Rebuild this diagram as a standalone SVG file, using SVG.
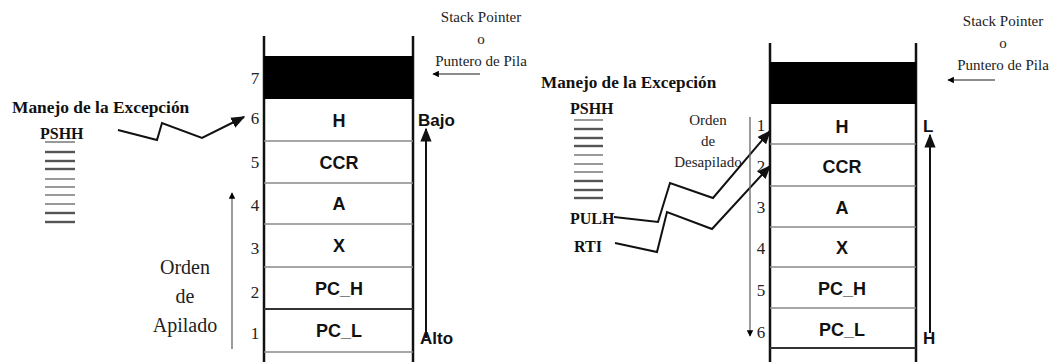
<svg xmlns="http://www.w3.org/2000/svg" width="1053" height="362" viewBox="0 0 1053 362">
<defs>
<marker id="ah" viewBox="0 0 10 10" refX="9" refY="5" markerWidth="5" markerHeight="5" orient="auto" markerUnits="strokeWidth"><path d="M0,0 L10,5 L0,10 z" fill="#000"/></marker>
<marker id="ahs" viewBox="0 0 10 10" refX="9" refY="5" markerWidth="7" markerHeight="7" orient="auto" markerUnits="strokeWidth"><path d="M0,1 L10,5 L0,9 z" fill="#111"/></marker>
<style>
.bd{stroke:#111;stroke-width:2.5;fill:none}
.cl{stroke:#888;stroke-width:1.5}
.cls{stroke:#333;stroke-width:2}
.lbl{font-family:"Liberation Sans",Arial,sans-serif;font-weight:bold;font-size:18px;text-anchor:middle;fill:#111}
.lbls{font-family:"Liberation Sans",Arial,sans-serif;font-weight:bold;font-size:17px;fill:#111}
.num{font-family:"Liberation Serif","Times New Roman",serif;font-size:17px;fill:#222;text-anchor:middle}
.ser{font-family:"Liberation Serif","Times New Roman",serif;fill:#222}
.sp{font-family:"Liberation Serif","Times New Roman",serif;fill:#222;font-size:15px;text-anchor:middle}
.tb{font-family:"Liberation Serif","Times New Roman",serif;font-weight:bold;fill:#111}
.pl{stroke:#555;stroke-width:2.4}
.pl2{stroke:#999;stroke-width:2}
.zz{stroke:#111;stroke-width:2;fill:none}
.ga{stroke:#666;stroke-width:1.3;fill:none}
</style>
</defs>

<g id="left-stack">
<line class="bd" x1="264" y1="36" x2="264" y2="362"/>
<line class="bd" x1="413" y1="36" x2="413" y2="362"/>
<rect x="264" y="56" width="149" height="43" fill="#000"/>
<line class="cl" x1="264" y1="141" x2="413" y2="141"/>
<line class="cl" x1="264" y1="183" x2="413" y2="183"/>
<line class="cl" x1="264" y1="224" x2="413" y2="224"/>
<line class="cl" x1="264" y1="267" x2="413" y2="267"/>
<line class="cls" x1="264" y1="309" x2="413" y2="309"/>
<line class="cl" x1="264" y1="352" x2="413" y2="352"/>
<text class="lbl" x="339" y="127">H</text>
<text class="lbl" x="339" y="169">CCR</text>
<text class="lbl" x="339" y="210">A</text>
<text class="lbl" x="339" y="252">X</text>
<text class="lbl" x="339" y="295">PC_H</text>
<text class="lbl" x="339" y="337">PC_L</text>
<text class="num" x="255" y="84">7</text>
<text class="num" x="255" y="124">6</text>
<text class="num" x="255" y="168">5</text>
<text class="num" x="255" y="211">4</text>
<text class="num" x="255" y="254">3</text>
<text class="num" x="255" y="298">2</text>
<text class="num" x="255" y="339">1</text>
</g>

<g id="left-sp">
<text class="sp" x="481" y="22">Stack Pointer</text>
<text class="sp" x="481" y="44">o</text>
<text class="sp" x="481" y="66">Puntero de Pila</text>
</g>

<g id="left-bajo-alto">
<text class="lbls" x="418" y="126">Bajo</text>
<text class="lbls" x="420" y="344">Alto</text>
</g>

<g id="left-manejo">
<text class="tb" font-size="17.4" x="12" y="113">Manejo de la Excepción</text>
<text class="tb" font-size="16" x="40" y="139">PSHH</text>
<line class="pl2" x1="45" y1="142" x2="75" y2="142"/>
<line class="pl" x1="45" y1="152" x2="75" y2="152"/>
<line class="pl" x1="45" y1="161" x2="75" y2="161"/>
<line class="pl" x1="45" y1="169" x2="75" y2="169"/>
<line class="pl2" x1="45" y1="179" x2="75" y2="179"/>
<line class="pl2" x1="45" y1="187" x2="75" y2="187"/>
<line class="pl2" x1="45" y1="195" x2="75" y2="195"/>
<line class="pl2" x1="45" y1="204" x2="75" y2="204"/>
<line class="pl" x1="45" y1="213" x2="75" y2="213"/>
<line class="pl" x1="45" y1="222" x2="75" y2="222"/>
</g>

<g id="left-orden">
<text class="ser" font-size="20" text-anchor="middle" fill="#444" x="185" y="274">Orden</text>
<text class="ser" font-size="20" text-anchor="middle" fill="#444" x="185" y="303">de</text>
<text class="ser" font-size="20" text-anchor="middle" fill="#444" x="185" y="332">Apilado</text>
</g>

<g id="right-stack">
<line class="bd" x1="770" y1="43" x2="770" y2="362"/>
<line class="bd" x1="916" y1="43" x2="916" y2="362"/>
<rect x="770" y="62" width="146" height="42" fill="#000"/>
<line class="cl" x1="770" y1="144" x2="916" y2="144"/>
<line class="cl" x1="770" y1="186" x2="916" y2="186"/>
<line class="cl" x1="770" y1="227" x2="916" y2="227"/>
<line class="cl" x1="770" y1="267" x2="916" y2="267"/>
<line class="cl" x1="770" y1="308" x2="916" y2="308"/>
<line class="cls" x1="770" y1="348" x2="916" y2="348"/>
<text class="lbl" x="842" y="133">H</text>
<text class="lbl" x="842" y="173">CCR</text>
<text class="lbl" x="842" y="214">A</text>
<text class="lbl" x="842" y="254">X</text>
<text class="lbl" x="842" y="295">PC_H</text>
<text class="lbl" x="842" y="336">PC_L</text>
<text class="num" x="761" y="131">1</text>
<text class="num" x="761" y="172">2</text>
<text class="num" x="761" y="213">3</text>
<text class="num" x="761" y="254">4</text>
<text class="num" x="761" y="296">5</text>
<text class="num" x="761" y="338">6</text>
</g>

<g id="right-sp">
<text class="sp" x="1003" y="26">Stack Pointer</text>
<text class="sp" x="1003" y="48">o</text>
<text class="sp" x="1003" y="70">Puntero de Pila</text>
</g>

<g id="right-lh">
<text class="lbls" x="923" y="132">L</text>
<text class="lbls" x="923" y="344">H</text>
</g>

<g id="right-manejo">
<text class="tb" font-size="17.2" x="541" y="88">Manejo de la Excepción</text>
<text class="tb" font-size="16" x="570" y="114">PSHH</text>
<line class="pl2" x1="574" y1="120" x2="603" y2="120"/>
<line class="pl" x1="574" y1="129" x2="603" y2="129"/>
<line class="pl" x1="574" y1="138" x2="603" y2="138"/>
<line class="pl" x1="574" y1="146" x2="603" y2="146"/>
<line class="pl2" x1="574" y1="155" x2="603" y2="155"/>
<line class="pl2" x1="574" y1="164" x2="603" y2="164"/>
<line class="pl2" x1="574" y1="172" x2="603" y2="172"/>
<line class="pl" x1="574" y1="181" x2="603" y2="181"/>
<line class="pl" x1="574" y1="190" x2="603" y2="190"/>
<line class="pl" x1="574" y1="198" x2="603" y2="198"/>
<text class="tb" font-size="16" x="570" y="224">PULH</text>
<text class="tb" font-size="16" x="574" y="252">RTI</text>
</g>

<g id="right-orden">
<text class="ser" font-size="15" text-anchor="middle" fill="#444" x="708" y="125">Orden</text>
<text class="ser" font-size="15" text-anchor="middle" fill="#444" x="708" y="146">de</text>
<text class="ser" font-size="15" text-anchor="middle" fill="#444" x="708" y="167">Desapilado</text>
</g>

<g id="connectors">
<polyline class="zz" points="118,130 157,140 162,123 202,138 244,117" marker-end="url(#ahs)"/>
<polyline class="zz" points="614,217 658,222 670,183 713,198 770,131" marker-end="url(#ahs)"/>
<polyline class="zz" points="615,243 657,252 667,212 712,229 770,166" marker-end="url(#ahs)"/>
<line class="ga" x1="232" y1="349" x2="232" y2="193" marker-end="url(#ah)"/>
<line class="zz" x1="426" y1="338" x2="426" y2="129" marker-end="url(#ahs)"/>
<line class="ga" x1="750" y1="117" x2="750" y2="336" marker-end="url(#ah)"/>
<line class="zz" x1="930" y1="333" x2="930" y2="135" marker-end="url(#ahs)"/>
<line class="ga" x1="480" y1="74" x2="433" y2="74" marker-end="url(#ah)"/>
<line class="ga" x1="995" y1="80" x2="948" y2="80" marker-end="url(#ah)"/>
</g>
</svg>
